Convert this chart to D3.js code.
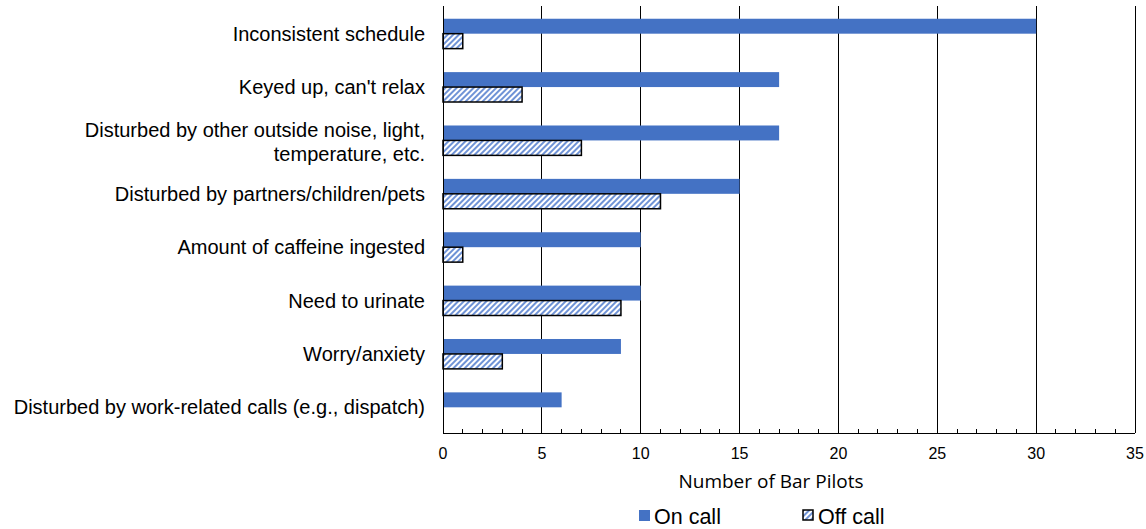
<!DOCTYPE html>
<html><head><meta charset="utf-8">
<script src="https://cdn.jsdelivr.net/npm/d3@7"></script>
<style>body{margin:0;background:#fff}</style>
</head><body>
<svg id="chart" width="1146" height="529"></svg>
<script>
const categories = [
  "Inconsistent schedule",
  "Keyed up, can't relax",
  "Disturbed by other outside noise, light,|temperature, etc.",
  "Disturbed by partners/children/pets",
  "Amount of caffeine ingested",
  "Need to urinate",
  "Worry/anxiety",
  "Disturbed by work-related calls (e.g., dispatch)"
];
const onCall = [30, 17, 17, 15, 10, 10, 9, 6];
const offCall = [1, 4, 7, 11, 1, 9, 3, 0];
const seriesNames = ["On call", "Off call"];
const xTicks = [0, 5, 10, 15, 20, 25, 30, 35];

const svg = d3.select("#chart");
const m = {left: 443, right: 1135, top: 6, bottom: 433};
const x = d3.scaleLinear().domain([0, 35]).range([m.left, m.right]);
const y = d3.scaleBand().domain(d3.range(categories.length)).range([m.top + 1, m.bottom + 1]).paddingInner(0.44).paddingOuter(0.22);
const blue = "#4472C4";

const defs = svg.append("defs");
const pat = defs.append("pattern").attr("id", "hatch").attr("patternUnits", "userSpaceOnUse")
  .attr("width", 4).attr("height", 4).attr("patternTransform", "rotate(45)");
pat.append("rect").attr("width", 4).attr("height", 4).attr("fill", "#fff");
pat.append("rect").attr("width", 2).attr("height", 4).attr("fill", "#6f93d6");

// gridlines
svg.append("g").selectAll("line").data(xTicks.filter(d => d > 0)).join("line")
  .attr("x1", d => x(d)).attr("x2", d => x(d)).attr("y1", m.top).attr("y2", m.bottom)
  .attr("stroke", "#000").attr("stroke-width", 1).attr("shape-rendering", "crispEdges");

const bh = y.bandwidth() / 2;
svg.append("g").selectAll("rect").data(onCall).join("rect")
  .attr("x", x(0)).attr("y", (d, i) => y(i)).attr("width", d => x(d) - x(0)).attr("height", bh)
  .attr("fill", blue);
const offData = offCall.map((v, i) => ({v, i})).filter(d => d.v > 0);
svg.append("g").selectAll("rect").data(offData).join("rect")
  .attr("x", x(0)).attr("y", d => y(d.i) + bh).attr("width", d => x(d.v) - x(0)).attr("height", bh)
  .attr("fill", "url(#hatch)").attr("stroke", "#000").attr("stroke-width", 1.5);

// x axis
const ax = svg.append("g").attr("transform", `translate(0,${m.bottom})`);
ax.append("line").attr("x1", x(0)).attr("x2", x(35)).attr("stroke", "#000").attr("shape-rendering", "crispEdges");
ax.selectAll("line.minor").data(d3.range(1, 35).filter(d => d % 5 !== 0)).join("line").attr("class", "minor")
  .attr("x1", d => x(d)).attr("x2", d => x(d)).attr("y1", 0).attr("y2", -4)
  .attr("stroke", "#000").attr("shape-rendering", "crispEdges");
ax.selectAll("text").data(xTicks).join("text")
  .attr("x", d => x(d)).attr("y", 26).attr("text-anchor", "middle")
  .attr("font-family", "Liberation Sans, Arial, sans-serif").attr("font-size", 16).text(d => d);
// y axis line
svg.append("line").attr("x1", x(0)).attr("x2", x(0)).attr("y1", m.top).attr("y2", m.bottom)
  .attr("stroke", "#000").attr("shape-rendering", "crispEdges");

// category labels
const lab = svg.append("g").attr("font-family", "Liberation Sans, Arial, sans-serif").attr("font-size", 20).attr("fill", "#000");
categories.forEach((c, i) => {
  const lines = c.split("|");
  const cy = y(i) + y.bandwidth() / 2;
  const t = lab.append("text").attr("text-anchor", "end").attr("x", 425);
  lines.forEach((l, j) => {
    t.append("tspan").attr("x", 425).attr("y", cy + 7 + (j - (lines.length - 1) / 2) * 24 + (lines.length > 1 ? 2 : 0)).text(l);
  });
});

svg.append("text").attr("x", 771).attr("y", 488).attr("text-anchor", "middle")
  .attr("font-family", "Open Sans, sans-serif").attr("font-size", 19).text("Number of Bar Pilots");

// legend
const lg = svg.append("g").attr("font-family", "Liberation Sans, Arial, sans-serif").attr("font-size", 21.5);
lg.append("rect").attr("x", 639).attr("y", 510).attr("width", 11).attr("height", 11).attr("fill", blue);
lg.append("text").attr("x", 654).attr("y", 524).text(seriesNames[0]);
lg.append("rect").attr("x", 803).attr("y", 510).attr("width", 10).attr("height", 10)
  .attr("fill", "url(#hatch)").attr("stroke", "#000").attr("stroke-width", 1.5);
lg.append("text").attr("x", 818).attr("y", 524).text(seriesNames[1]);
</script>
</body></html>
